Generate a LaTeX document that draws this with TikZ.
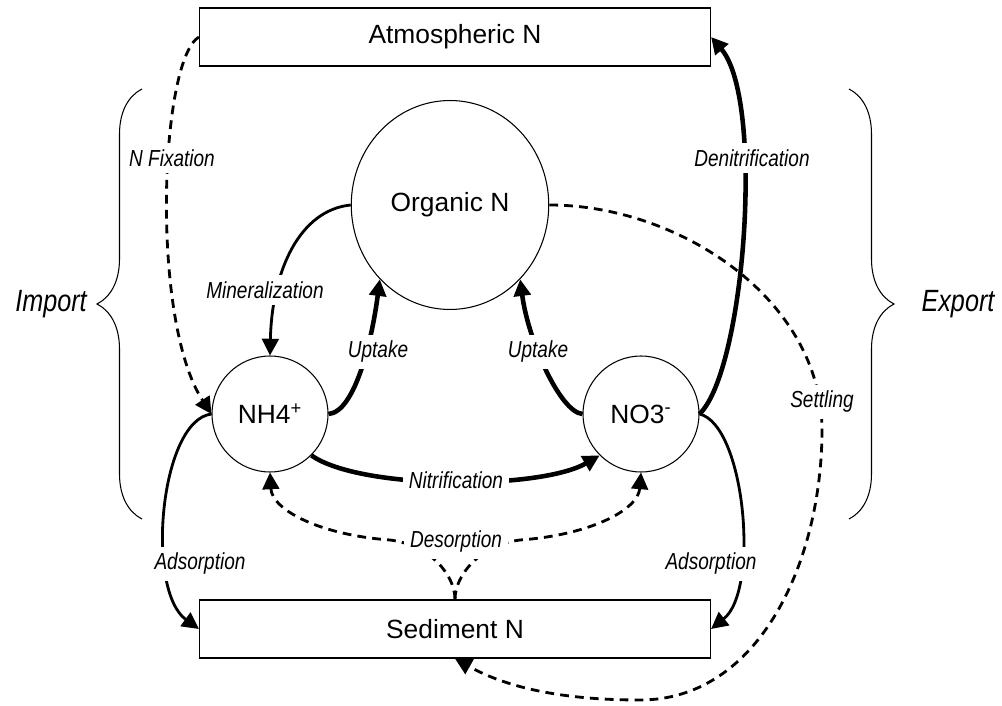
\documentclass[tikz,border=0pt]{standalone}
\usepackage{fontspec}
\setmainfont{Liberation Sans}
\newfontfamily\lblfont[FakeStretch=0.82]{Liberation Sans}
\usepackage{tikz}
\usetikzlibrary{arrows.meta,decorations.pathreplacing,shapes.geometric}

\tikzset{
  pool/.style={draw, line width=0.7pt, minimum width=10.22cm, minimum height=1.16cm,
    font=\fontsize{15}{18}\selectfont},
  cpool/.style={draw, circle, line width=0.6pt, inner sep=0pt, minimum size=2.32cm,
    font=\fontsize{15}{18}\selectfont},
  flow/.style={line width=1.6pt, -{Triangle[length=9.5pt,width=9.5pt]}},
  bigflow/.style={flow, line width=2.6pt},
  dflow/.style={flow, dash pattern=on 5pt off 3.5pt},
  lbl/.style={fill=white, inner sep=3.5pt, font=\lblfont\itshape\fontsize{13.2}{15}\selectfont},
  side/.style={font=\lblfont\itshape\fontsize{17.5}{20}\selectfont},
  brc/.style={decorate, decoration={brace, amplitude=0.9cm}, line width=0.6pt}
}

\begin{document}
\begin{tikzpicture}[x=0.02cm, y=-0.02cm]
\useasboundingbox (0,0) rectangle (1002,706);
% Pools
\node[pool] (atm) at (455,37) {Atmospheric N};
\node[pool] (sed) at (455,629) {Sediment N};
\node[draw, ellipse, line width=0.6pt, inner sep=0pt, minimum width=3.95cm,
  minimum height=4.18cm, font=\fontsize{15}{18}\selectfont] (org) at (450,205) {Organic N};
\node[cpool] (nh4) at (270,414) {NH4\textsuperscript{+}};
\node[cpool] (no3) at (641,414) {NO3\textsuperscript{-}};

% Import / Export
\draw[brc] (142,519) -- (142,89);
\draw[brc] (849,89) -- (849,519);
\node[side] (imp) at (51,304) {Import};
\node[side] (exp) at (958,304) {Export};

% Fluxes
\draw[dflow] (atm.west) .. controls (160,60) and (150,320) .. (nh4.west);
\draw[flow] (org.west) .. controls (300,210) and (272,270) .. (nh4.north);
\draw[bigflow] (nh4.east) .. controls (355,412) and (372,340) .. (org.south west);
\draw[bigflow] (no3.west) .. controls (560,412) and (528,340) .. (org.south east);
\draw[bigflow] (nh4.-45) .. controls (360,490) and (540,490) .. (no3.-135);
\draw[dflow] (sed.north) .. controls (455,575) and (430,545) .. (390,540)
  .. controls (320,535) and (272,510) .. (nh4.south);
\draw[dflow] (sed.north) .. controls (455,575) and (480,545) .. (520,540)
  .. controls (590,535) and (638,510) .. (no3.south);
\draw[bigflow] (no3.east) .. controls (745,370) and (765,100) .. (atm.east);
\draw[dflow] (org.east) .. controls (680,205) and (822,300) .. (822,430)
  .. controls (822,560) and (760,700) .. (640,700)
  .. controls (590,700) and (520,695) .. (sed.south);
\draw[flow] (nh4.west) .. controls (160,420) and (145,590) .. (sed.west);
\draw[flow] (no3.east) .. controls (745,425) and (760,590) .. (sed.east);

% Labels
\node[lbl] (fix) at (172,158) {N Fixation};
\node[lbl] (mine) at (265,290) {Mineralization};
\node[lbl] (upl) at (378,352) {Uptake};
\node[lbl] (upr) at (538,352) {Uptake};
\node[lbl] (nit) at (456,480) {Nitrification};
\node[lbl] (des) at (456,542) {Desorption};
\node[lbl] (den) at (752,158) {Denitrification};
\node[lbl] (sett) at (822,402) {Settling};
\node[lbl] (adl) at (200,564) {Adsorption};
\node[lbl] (adr) at (711,564) {Adsorption};
\end{tikzpicture}
\end{document}
